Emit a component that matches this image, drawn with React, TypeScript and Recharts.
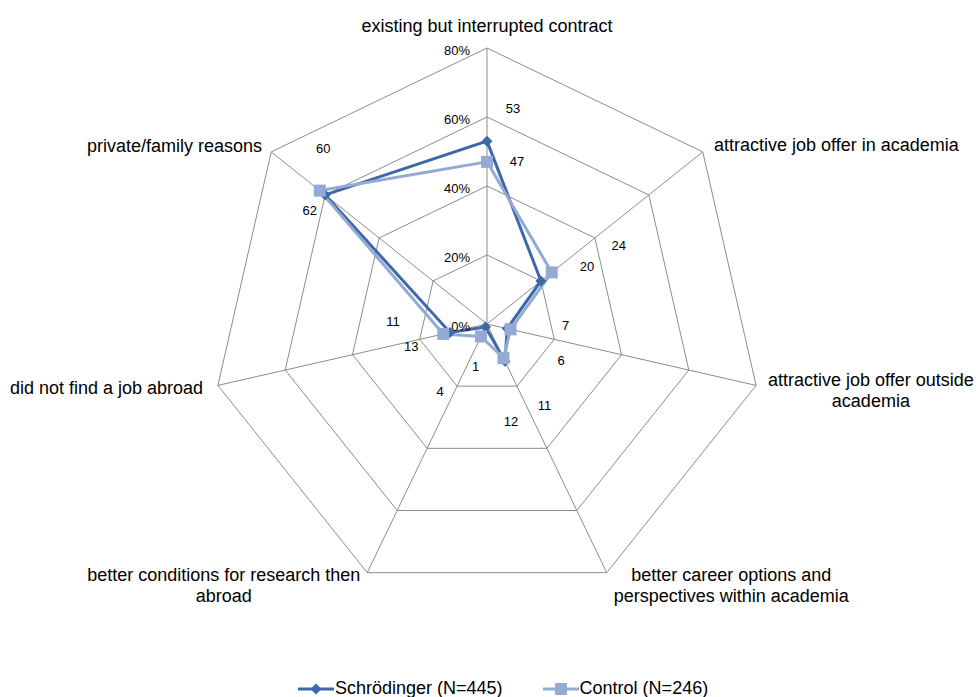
import { RadarChart, Radar, PolarGrid, PolarAngleAxis, PolarRadiusAxis, Legend } from "recharts"

// reasons for returning (categories run clockwise from the top)
const categories = [
  "existing but interrupted contract",
  "attractive job offer in academia",
  "attractive job offer outside academia",
  "better career options and perspectives within academia",
  "better conditions for research then abroad",
  "did not find a job abroad",
  "private/family reasons",
]

// how the category names wrap on the chart
const categoryLines = [
  ["existing but interrupted contract"],
  ["attractive job offer in academia"],
  ["attractive job offer outside", "academia"],
  ["better career options and", "perspectives within academia"],
  ["better conditions for research then", "abroad"],
  ["did not find a job abroad"],
  ["private/family reasons"],
]

const schroedinger = [53, 20, 6, 12, 1, 11, 60]
const control = [47, 24, 7, 11, 4, 13, 62]

const radiusTicks = [0, 20, 40, 60, 80]

const S_COLOR = "#3D69A8"
const C_COLOR = "#93AAD5"
const GRID = "#8C8C8C"
const FONT = "'Liberation Sans', Arial, sans-serif"

// where each category label sits relative to its tick point
const labelLayout: { dx: number; dy: number; anchor: "start" | "middle" | "end" }[] = [
  { dx: 0, dy: -14, anchor: "middle" },
  { dx: 5, dy: -2, anchor: "start" },
  { dx: 107, dy: -7, anchor: "middle" },
  { dx: 121, dy: -5, anchor: "middle" },
  { dx: -140, dy: -5, anchor: "middle" },
  { dx: -7, dy: 1, anchor: "end" },
  { dx: -3, dy: -1, anchor: "end" },
]

// value labels are nudged away from the markers, like in the original
const sLabelOffset = [[26, -33], [46, -14], [54, 32], [6, 60], [-10, 39], [-57, -11], [-2, -46]]
const cLabelOffset = [[30, 0], [67, -27], [55, -4], [41, 47], [-41, 55], [-32, 13], [-10, 20]]

const data = categories.map((c, i) => ({
  category: c,
  schroedinger: schroedinger[i],
  control: control[i],
}))

function AngleTick(props: any) {
  const { x, y, index } = props
  const lay = labelLayout[index]
  const lines = categoryLines[index]
  return (
    <text
      x={x + lay.dx}
      y={y + lay.dy}
      textAnchor={lay.anchor}
      dominantBaseline="central"
      fontFamily={FONT}
      fontSize={18}
      fill="#000"
    >
      {lines.map((l, k) => (
        <tspan key={k} x={x + lay.dx} dy={k === 0 ? 0 : 21}>
          {l}
        </tspan>
      ))}
    </text>
  )
}

function RadiusTick(props: any) {
  const { x, y, payload } = props
  return (
    <text x={x - 17} y={y + 2} textAnchor="end" dominantBaseline="central" fontFamily={FONT} fontSize={13} fill="#000">
      {payload.value}%
    </text>
  )
}

function SDot(props: any) {
  const { cx, cy, index } = props
  const s = 5.5
  const [dx, dy] = sLabelOffset[index]
  return (
    <g key={`s-${index}`}>
      <polygon
        points={`${cx},${cy - s} ${cx + s},${cy} ${cx},${cy + s} ${cx - s},${cy}`}
        fill={S_COLOR}
      />
      <text x={cx + dx} y={cy + dy} textAnchor="middle" dominantBaseline="central" fontFamily={FONT} fontSize={13} fill="#000">
        {schroedinger[index]}
      </text>
    </g>
  )
}

function CDot(props: any) {
  const { cx, cy, index } = props
  const s = 6
  const [dx, dy] = cLabelOffset[index]
  return (
    <g key={`c-${index}`}>
      <rect x={cx - s} y={cy - s} width={2 * s} height={2 * s} fill={C_COLOR} />
      <text x={cx + dx} y={cy + dy} textAnchor="middle" dominantBaseline="central" fontFamily={FONT} fontSize={13} fill="#000">
        {control[index]}
      </text>
    </g>
  )
}

function LegendContent() {
  const item = (label: string, color: string, square: boolean) => (
    <span style={{ display: "inline-flex", alignItems: "center", marginRight: 40 }}>
      <svg width={36} height={14} style={{ marginRight: 1 }}>
        <line x1={0} y1={7} x2={36} y2={7} stroke={color} strokeWidth={3} />
        {square ? (
          <rect x={12} y={1} width={12} height={12} fill={color} />
        ) : (
          <polygon points="18,1.5 23.5,7 18,12.5 12.5,7" fill={color} />
        )}
      </svg>
      <span>{label}</span>
    </span>
  )
  return (
    <div style={{ fontFamily: FONT, fontSize: 18, color: "#000", whiteSpace: "nowrap" }}>
      {item("Schrödinger (N=445)", S_COLOR, false)}
      {item("Control (N=246)", C_COLOR, true)}
    </div>
  )
}

export default function App() {
  return (
    <div style={{ position: "absolute", left: 0, top: 0, width: 978, height: 697, background: "#fff" }}>
      <RadarChart
        width={978}
        height={697}
        data={data}
        cx={487}
        cy={324}
        outerRadius={276}
        margin={{ top: 0, right: 0, bottom: 0, left: 0 }}
      >
        <PolarGrid gridType="polygon" stroke={GRID} strokeWidth={1} />
        <PolarAngleAxis dataKey="category" tick={<AngleTick />} tickLine={false} axisLine={false} />
        <PolarRadiusAxis
          angle={90}
          domain={[0, 80]}
          ticks={radiusTicks}
          tickCount={5}
          axisLine={false}
          tick={<RadiusTick />}
        />
        <Radar
          name="Schrödinger (N=445)"
          dataKey="schroedinger"
          stroke={S_COLOR}
          strokeWidth={3}
          fill="none"
          fillOpacity={0}
          dot={<SDot />}
          isAnimationActive={false}
        />
        <Radar
          name="Control (N=246)"
          dataKey="control"
          stroke={C_COLOR}
          strokeWidth={3}
          fill="none"
          fillOpacity={0}
          dot={<CDot />}
          isAnimationActive={false}
        />
        <Legend
          content={<LegendContent />}
          wrapperStyle={{ position: "absolute", left: 298, top: 678, width: 520, height: 20 }}
        />
      </RadarChart>
    </div>
  )
}
